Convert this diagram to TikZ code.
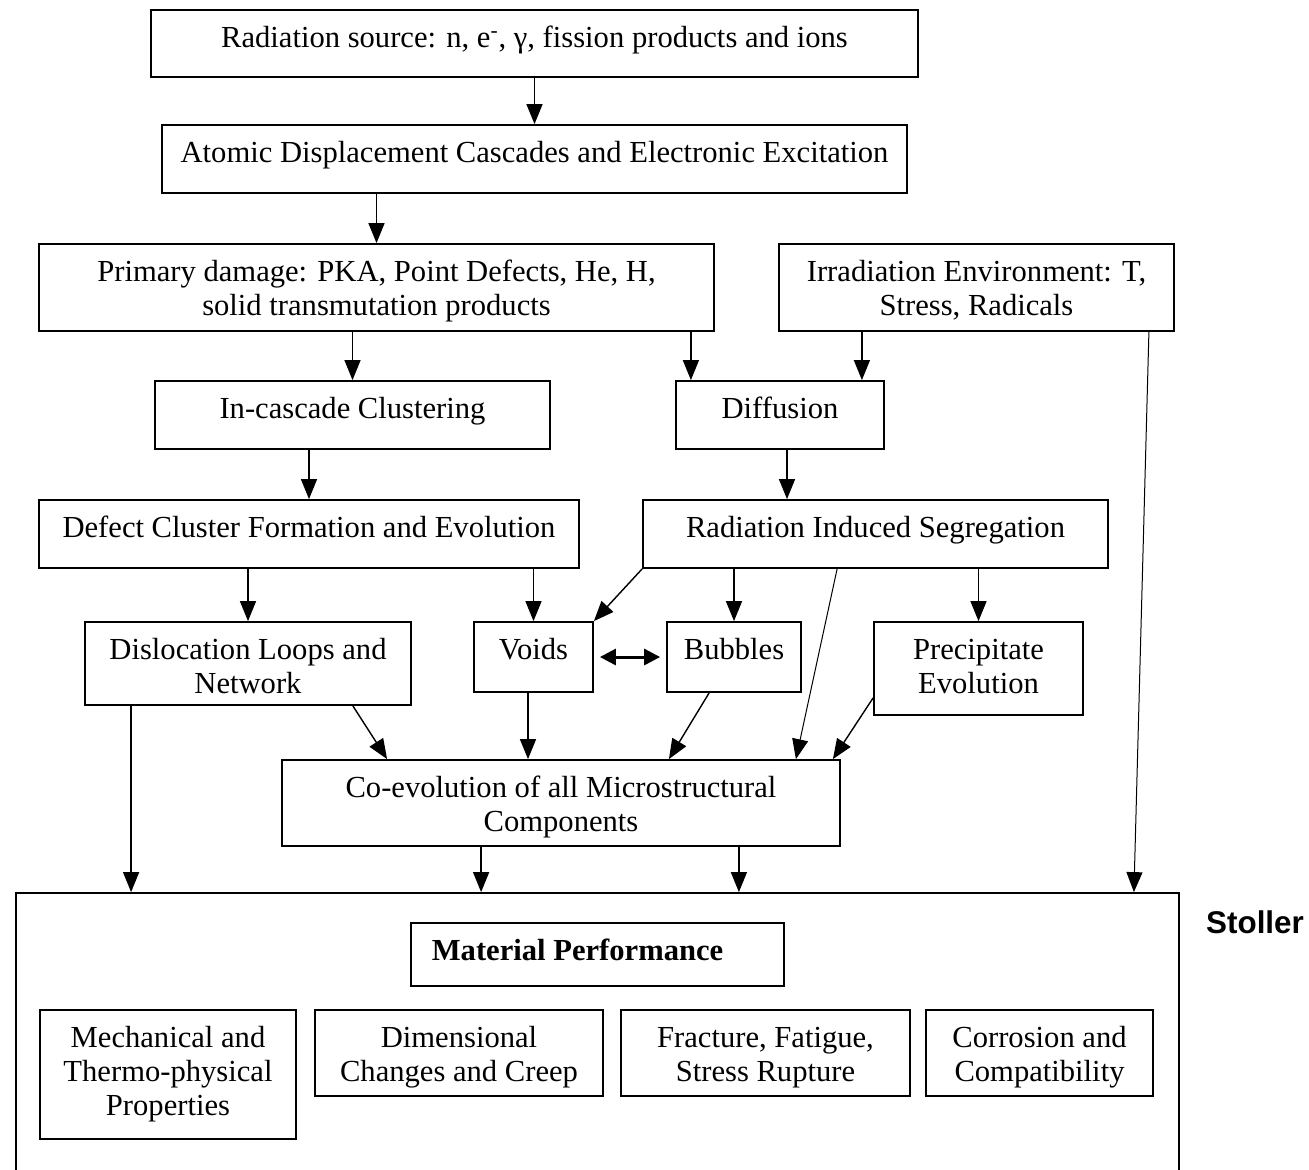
\documentclass[tikz,border=0pt]{standalone}
\usepackage{fontspec}
\setmainfont{Liberation Serif}
\newfontfamily\stollerfont{Liberation Sans}
\usepackage{tikz}
\usetikzlibrary{arrows.meta}
\usetikzlibrary{calc}
\usetikzlibrary{fit}
\usetikzlibrary{positioning}

\begin{document}
\begin{tikzpicture}[x=0.5pt,y=-0.5pt]
\tikzset{Box/.style={
  draw,
  line width=0.9pt,
  rectangle,
  inner sep=0pt,
  label={[BoxText]north:\strut #1},
}}
\tikzset{BoxText/.style={
  inner sep=0pt,
  anchor=north,
  yshift=-7.1pt,
  align=center,
  font=\fontsize{15.3}{17}\selectfont,
}}
\tikzset{TitleText/.style={
  BoxText,
  font=\fontsize{15.3}{17}\selectfont\bfseries,
}}
\tikzset{Link/.style={
  line width=0.7pt,
  -{Triangle[width=8pt,length=10pt]},
}}
\tikzset{LongLink/.style={
  Link,
  line width=0.5pt,
}}
\tikzset{BothLink/.style={
  line width=1.5pt,
  {Triangle[width=8pt,length=8pt]}-{Triangle[width=8pt,length=8pt]},
}}

\useasboundingbox (0,0) rectangle (1309,1169);
\clip (0,0) rectangle (1309,1169);

\node[Box={Radiation source: n, e\textsuperscript{-}, γ, fission products and ions},
  fit={(151,10) (918,77)}] (source) {};
\node[Box={Atomic Displacement Cascades and Electronic Excitation},
  fit={(162,125) (907,193)}] (cascade) {};
\node[Box={Primary damage: PKA, Point Defects, He, H,\\solid transmutation products},
  fit={(39,244) (714,331)}] (primary) {};
\node[Box={Irradiation Environment: T,\\Stress, Radicals},
  fit={(779,244) (1174,331)}] (environ) {};
\node[Box={In-cascade Clustering}, fit={(155,381) (550,449)}] (clustering) {};
\node[Box={Diffusion}, fit={(676,381) (884,449)}] (diffusion) {};
\node[Box={Defect Cluster Formation and Evolution},
  fit={(39,500) (579,568)}] (defects) {};
\node[Box={Radiation Induced Segregation},
  fit={(643,500) (1108,568)}] (segregation) {};
\node[Box={Dislocation Loops and\\Network}, fit={(85,622) (411,705)}] (loops) {};
\node[Box={Voids}, fit={(474,622) (593,692)}] (voids) {};
\node[Box={Bubbles}, fit={(667,622) (801,692)}] (bubbles) {};
\node[Box={Precipitate\\Evolution}, fit={(874,622) (1083,715)}] (precip) {};
\node[Box={Co-evolution of all Microstructural\\Components},
  fit={(282,760) (840,846)}] (coevol) {};

\node[Box={}, fit={(16,893) (1179,1200)}] (perf) {};
\node[draw, line width=0.9pt, inner sep=0pt, fit={(411,923) (784,986)},
  label={[TitleText, xshift=-10pt]north:\strut Material Performance}] (perftitle) {};
\node[Box={Mechanical and\\Thermo-physical\\Properties},
  fit={(40,1010) (296,1139)}] (mechanical) {};
\node[Box={Dimensional\\Changes and Creep},
  fit={(315,1010) (603,1096)}] (dimension) {};
\node[Box={Fracture, Fatigue,\\Stress Rupture},
  fit={(621,1010) (910,1096)}] (fracture) {};
\node[Box={Corrosion and\\Compatibility},
  fit={(926,1010) (1153,1096)}] (corrosion) {};

\node[font=\stollerfont\fontsize{15.7}{18}\selectfont\bfseries] (author) at (1255,922) {Stoller};

\draw[Link] (source.south) -- (cascade.north);
\draw[Link] (primary.north |- cascade.south) -- (primary.north);
\draw[Link] (clustering.north |- primary.south) -- (clustering.north);
\draw[Link] ([xshift=-12pt]primary.south east) -- ([xshift=-12pt]primary.south east |- diffusion.north);
\draw[Link] ([xshift=-11.5pt]diffusion.north east |- environ.south) -- ([xshift=-11.5pt]diffusion.north east);
\draw[LongLink] ([xshift=-13pt]environ.south east) -- ([xshift=-23pt]perf.north east);
\draw[Link] (defects.north |- clustering.south) -- (defects.north);
\draw[Link] ([xshift=3.5pt]diffusion.south) -- ([xshift=3.5pt]diffusion.south |- segregation.north);
\draw[Link] (loops.north |- defects.south) -- (loops.north);
\draw[Link] (voids.north |- defects.south) -- (voids.north);
\draw[Link] (segregation.south west) -- (voids.north east);
\draw[Link] (bubbles.north |- segregation.south) -- (bubbles.north);
\draw[Link] (precip.north |- segregation.south) -- (precip.north);
\draw[LongLink] ([xshift=97.5pt]segregation.south west) -- ([xshift=-22.5pt]coevol.north east);
\draw[BothLink] ([xshift=3pt]voids.east) -- ([xshift=-3pt]bubbles.west);
\draw[Link] ([xshift=-29.5pt]loops.south east) -- ([xshift=53pt]coevol.north west);
\draw[Link] ([xshift=-2.75pt]voids.south) -- ([xshift=-2.75pt]voids.south |- coevol.north);
\draw[Link] ([xshift=21.5pt]bubbles.south west) -- ([xshift=-86pt]coevol.north east);
\draw[Link] ([yshift=9pt]precip.south west) -- ([xshift=-4pt]coevol.north east);
\draw[Link] ([xshift=23.5pt]loops.south west) -- ([xshift=23.5pt]loops.south west |- perf.north);
\draw[Link] ([xshift=100pt]coevol.south west) -- ([xshift=100pt]coevol.south west |- perf.north);
\draw[Link] ([xshift=-51pt]coevol.south east) -- ([xshift=-51pt]coevol.south east |- perf.north);
\end{tikzpicture}
\end{document}
